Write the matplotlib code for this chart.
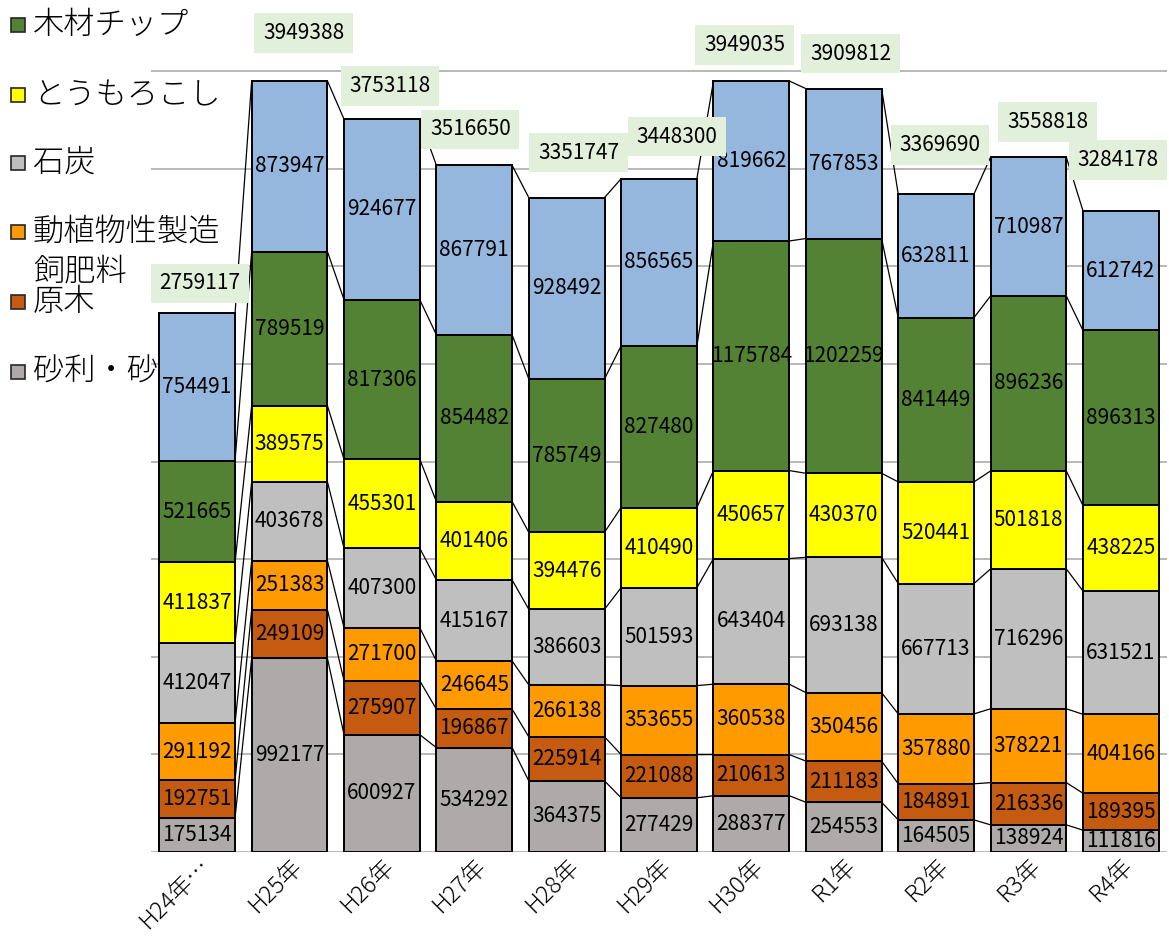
import matplotlib
matplotlib.use('Agg')
import matplotlib.pyplot as plt
import numpy as np

# ---- data ----
years = ['H24年…', 'H25年', 'H26年', 'H27年', 'H28年', 'H29年',
         'H30年', 'R1年', 'R2年', 'R3年', 'R4年']

# 下から順に積み上げ
jari    = [175134, 992177, 600927, 534292, 364375, 277429, 288377, 254553, 164505, 138924, 111816]
genboku = [192751, 249109, 275907, 196867, 225914, 221088, 210613, 211183, 184891, 216336, 189395]
hiryo   = [291192, 251383, 271700, 246645, 266138, 353655, 360538, 350456, 357880, 378221, 404166]
sekitan = [412047, 403678, 407300, 415167, 386603, 501593, 643404, 693138, 667713, 716296, 631521]
corn    = [411837, 389575, 455301, 401406, 394476, 410490, 450657, 430370, 520441, 501818, 438225]
chip    = [521665, 789519, 817306, 854482, 785749, 827480, 1175784, 1202259, 841449, 896236, 896313]
sonota  = [754491, 873947, 924677, 867791, 928492, 856565, 819662, 767853, 632811, 710987, 612742]

series_names = ['砂利・砂', '原木', '動植物性製造飼肥料', '石炭', 'とうもろこし', '木材チップ', 'その他']
series_vals = [jari, genboku, hiryo, sekitan, corn, chip, sonota]
colors = ['#AEAAAA', '#C55A11', '#FF9A00', '#BFBFBF', '#FFFF00', '#548235', '#95B7DE']

# ---- style ----
plt.rcParams['font.family'] = ['Noto Sans CJK JP', 'DejaVu Sans']

W, H = 1169, 938
fig = plt.figure(figsize=(W / 100, H / 100), dpi=100)
ax = fig.add_axes([151 / W, 86 / H, 1016 / W, 852 / H])

x = np.arange(len(years))
bw = 0.82
bottoms = np.zeros(len(years))
tops_all = []
for name, vals, c in zip(series_names, series_vals, colors):
    vals = np.array(vals)
    ax.bar(x, vals, bw, bottom=bottoms, color=c, edgecolor='black', linewidth=1.4, zorder=2)
    for xi, b, v in zip(x, bottoms, vals):
        ax.text(xi, b + v / 2, str(v), ha='center', va='center', fontsize=15, zorder=4)
    bottoms = bottoms + vals
    tops_all.append(bottoms.copy())

# 区分線
for tops in tops_all:
    for i in range(len(x) - 1):
        ax.plot([x[i] + bw / 2, x[i + 1] - bw / 2], [tops[i], tops[i + 1]],
                color='black', linewidth=0.9, zorder=1.5)

# 合計ラベル
totals = tops_all[-1]
lbl_dx = [3, 14, 8, -4, 12, 18, -7, 7, 4, 19, -3]
lbl_dy = [30, 48, 33, 36, 45, 42, 36, 35, 49, 35, 51]
for i, t in enumerate(totals):
    ax.annotate(str(int(t)), xy=(x[i], t), xytext=(lbl_dx[i], lbl_dy[i]),
                textcoords='offset pixels', ha='center', va='center', fontsize=15,
                bbox=dict(boxstyle='square,pad=0.42', fc='#E2EFDA', ec='none'),
                zorder=5, annotation_clip=False)

ax.set_xlim(-0.5, len(x) - 0.5)
ax.set_ylim(0, 4363700)
ax.set_yticks(np.arange(0, 4000001, 500000))
ax.set_yticklabels([])
ax.yaxis.grid(True, color='#ABABAB', linewidth=1.2)
ax.set_axisbelow(True)
ax.tick_params(axis='y', length=0)
ax.tick_params(axis='x', length=0, pad=1)
for s in ax.spines.values():
    s.set_visible(False)
ax.set_xticks(x)
ax.set_xticklabels(years, rotation=45, ha='right', va='top',
                   rotation_mode='anchor', fontsize=17, fontweight='light')

# 凡例 (一部が切れている)
legend_items = [('木材チップ', '#548235', [25]),
                ('とうもろこし', '#FFFF00', [95]),
                ('石炭', '#BFBFBF', [163]),
                ('動植物性製造', '#FF9A00', [232]),
                ('飼肥料', None, [272]),
                ('原木', '#C55A11', [302]),
                ('砂利・砂', '#AEAAAA', [372])]
for label, c, ys in legend_items:
    y = 1 - ys[0] / H
    if c is not None:
        ax.plot([18 / W], [y], marker='s', ms=10.5, mfc=c, mec='#262626', mew=1.2,
                transform=fig.transFigure, clip_on=False, zorder=1)
    ax.text(33 / W, y, label, transform=fig.transFigure, fontsize=22.5,
            fontweight='light', ha='left', va='center', clip_on=False, zorder=1)

plt.savefig('out.png', dpi=100)
